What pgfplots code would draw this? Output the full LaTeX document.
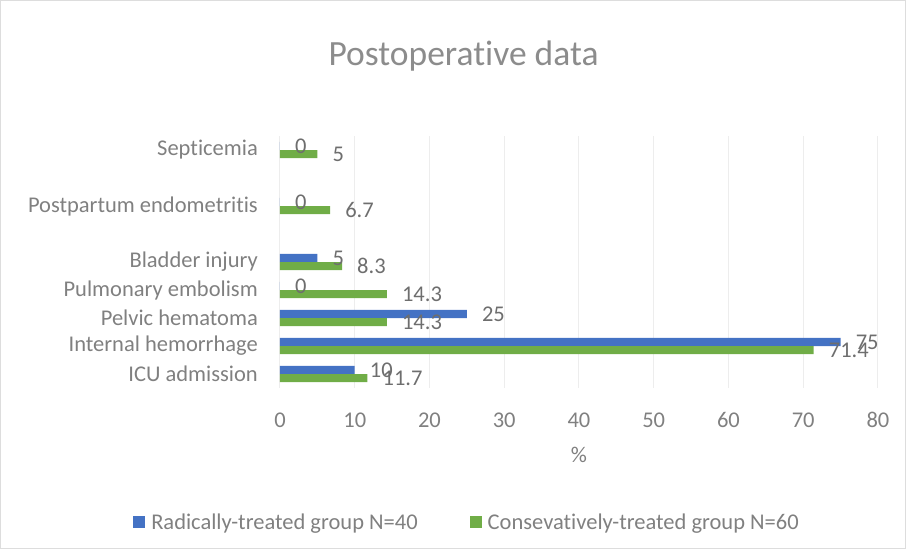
\documentclass[border=0pt]{standalone}
\usepackage{fontspec}
\setmainfont{Carlito}[Ligatures=NoCommon]
\usepackage{pgfplots}
\pgfplotsset{compat=1.18}

\definecolor{radblue}{HTML}{4472C4}
\definecolor{congreen}{HTML}{70AD47}
\definecolor{txtgray}{HTML}{808080}
\definecolor{datagray}{HTML}{6E6E6E}
\definecolor{titlegray}{HTML}{8C8C8C}
\definecolor{gridgray}{HTML}{EDEDED}
\definecolor{framegray}{HTML}{DDDDDD}

\newcommand{\lblfont}{\fontsize{22.5bp}{27bp}\selectfont}

\begin{document}
\begin{tikzpicture}
% chart area frame
\draw[framegray, line width=1bp] (-279.5bp,-160.5bp) rectangle (625.5bp,387.5bp);

\begin{axis}[
  at={(0,0)}, anchor=south west,
  scale only axis, width=598bp, height=252bp,
  xbar, bar width=0.29,
  xmin=0, xmax=80, ymin=-0.5, ymax=8.5,
  xtick={0,10,...,80},
  ytick={0,1,2,3,4,6,8},
  yticklabels={ICU admission, Internal hemorrhage, Pelvic hematoma,
    Pulmonary embolism, Bladder injury, Postpartum endometritis, Septicemia},
  axis line style={draw=none},
  major tick length=0pt,
  xmajorgrids, grid style={gridgray, line width=1bp},
  /pgf/number format/assume math mode=true,
  ticklabel style={font=\lblfont, text=txtgray},
  xticklabel style={anchor=center, yshift=-32bp},
  yticklabel style={anchor=east, inner sep=0pt, xshift=-22bp},
  xlabel={\%},
  xlabel style={at={(rel axis cs:0.5,0)}, anchor=center, yshift=-67bp,
    font=\lblfont, text=txtgray},
  point meta=explicit symbolic,
  nodes near coords,
  every node near coord/.append style={font=\lblfont, text=datagray,
    anchor=west, inner sep=0pt, xshift=15bp},
  legend columns=2,
  legend style={at={(rel axis cs:0.3127,-0.5317)}, anchor=center,
    draw=none, fill=none, font=\lblfont, text=txtgray,
    /tikz/every even column/.append style={column sep=50bp},
    /tikz/every odd column/.append style={column sep=0bp}},
  clip=false,
]
\addplot[fill=radblue, draw=none, bar shift=0.145,
  legend image code/.code={\fill[radblue] (0bp,-6bp) rectangle (12bp,6bp);
    \path (16bp,0bp);}]
  coordinates {
  (10,0) [10]
  (75,1) [75]
  (25,2) [25]
  (0,3) [0]
  (5,4) [5]
  (0,6) [0]
  (0,8) [0]
};
\addlegendentry{Radically-treated group N=40}

\addplot[fill=congreen, draw=none, bar shift=-0.145,
  legend image code/.code={\fill[congreen] (0bp,-6bp) rectangle (12bp,6bp);
    \path (16bp,0bp);}]
  coordinates {
  (11.7,0) [11.7]
  (71.4,1) [71.4]
  (14.3,2) [14.3]
  (14.3,3) [14.3]
  (8.3,4) [8.3]
  (6.7,6) [6.7]
  (5,8) [5]
};
\addlegendentry{Consevatively-treated group N=60}
\end{axis}

\node[font=\fontsize{35.5bp}{42bp}\selectfont, text=titlegray]
  at (183.5bp,331.5bp) {Postoperative data};
\end{tikzpicture}
\end{document}
